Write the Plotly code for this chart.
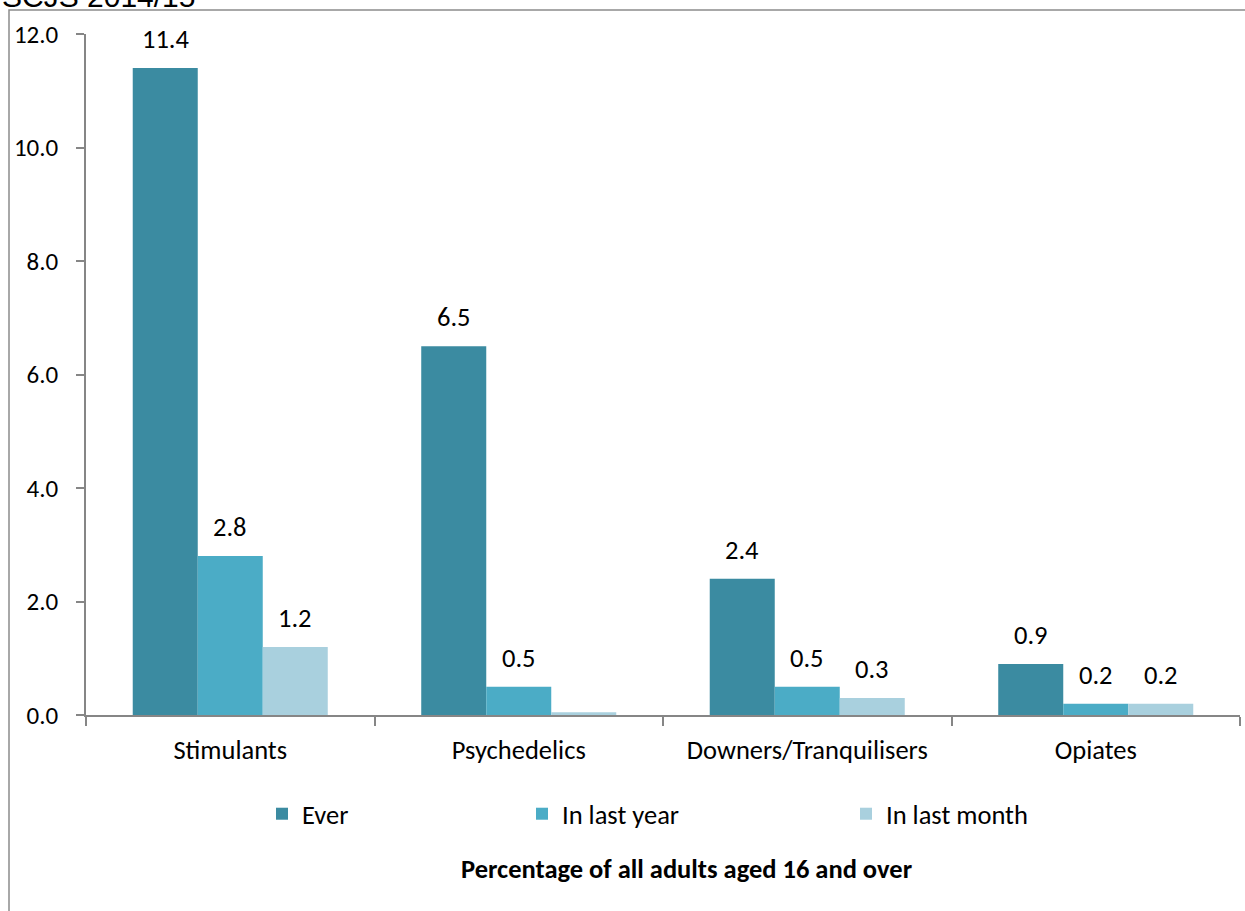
import plotly.graph_objects as go

categories = ["Stimulants", "Psychedelics", "Downers/Tranquilisers", "Opiates"]
series_names = ["Ever", "In last year", "In last month"]
ever = [11.4, 6.5, 2.4, 0.9]
last_year = [2.8, 0.5, 0.5, 0.2]
last_month = [1.2, 0.05, 0.3, 0.2]
label_ever = ["11.4", "6.5", "2.4", "0.9"]
label_year = ["2.8", "0.5", "0.5", "0.2"]
label_month = ["1.2", "", "0.3", "0.2"]
y_ticks = [0, 2, 4, 6, 8, 10, 12]

colors = ["#3B8BA1", "#4BACC6", "#A9D0DE"]
FONT = "Carlito, Lato, sans-serif"
FS = 26.5

W, H = 1245, 911
L, R, T, B = 86, 5, 34, 196
pw, ph = W - L - R, H - T - B

def px_x(p):
    return (p - L) / pw

def px_y(p):
    return (H - B - p) / ph

BARGAP = 0.324
fig = go.Figure()
all_vals = [ever, last_year, last_month]
all_labels = [label_ever, label_year, label_month]
legends = ["legend", "legend2", "legend3"]
for i, (name, vals) in enumerate(zip(series_names, all_vals)):
    fig.add_trace(go.Bar(
        x=categories, y=vals, name=name,
        marker=dict(color=colors[i], line=dict(width=0)),
        legend=legends[i], hoverinfo="skip",
    ))

annotations = []
bw = (1 - BARGAP) / 3
for i, (vals, labs) in enumerate(zip(all_vals, all_labels)):
    for j, (v, lab) in enumerate(zip(vals, labs)):
        if not lab:
            continue
        annotations.append(dict(
            x=j + (i - 1) * bw, y=v, xref="x", yref="y", text=lab,
            showarrow=False, yanchor="bottom", yshift=11,
            font=dict(family=FONT, size=FS, color="#000000"),
        ))

annotations.append(dict(
    x=px_x(687), y=px_y(869), xref="paper", yref="paper",
    text="<b>Percentage of all adults aged 16 and over</b>",
    showarrow=False, xanchor="center", yanchor="middle",
    font=dict(family=FONT, size=FS, color="#000000"),
))
annotations.append(dict(
    x=px_x(0), y=px_y(15), xref="paper", yref="paper",
    text="SCJS 2014/15", showarrow=False, xanchor="left", yanchor="bottom",
    font=dict(family="Liberation Sans, Arial", size=30, color="#000000"),
))

leg_common = dict(orientation="h", yanchor="middle", xanchor="left",
                  font=dict(family=FONT, size=FS, color="#000000"),
                  bgcolor="rgba(0,0,0,0)", itemwidth=30)

fig.update_layout(
    width=W, height=H,
    margin=dict(l=L, r=R, t=T, b=B),
    paper_bgcolor="white", plot_bgcolor="white",
    barmode="group", bargap=BARGAP, bargroupgap=0,
    font=dict(family=FONT, size=FS, color="#000000"),
    showlegend=True,
    legend=dict(x=px_x(262), y=px_y(814), **leg_common),
    legend2=dict(x=px_x(522), y=px_y(814), **leg_common),
    legend3=dict(x=px_x(846), y=px_y(814), **leg_common),
    annotations=annotations,
    shapes=[dict(type="rect", xref="paper", yref="paper",
                 x0=px_x(9), x1=1.2, y0=-0.6, y1=px_y(10),
                 line=dict(color="#8C8C8C", width=1.5), fillcolor="rgba(0,0,0,0)",
                 layer="below")],
    xaxis=dict(
        showline=True, linecolor="#868686", linewidth=1.5,
        ticks="outside", tickson="boundaries", ticklen=9, tickcolor="#868686", tickwidth=1.5,
        tickfont=dict(family=FONT, size=FS, color="#000000"),
        ticklabelstandoff=10, showgrid=False, zeroline=False,
    ),
    yaxis=dict(
        range=[0, 12], tickvals=y_ticks, tickformat=".1f",
        showline=True, linecolor="#868686", linewidth=1.5,
        ticks="outside", ticklen=8, tickcolor="#868686", tickwidth=1.5,
        tickfont=dict(family=FONT, size=25, color="#000000"),
        ticklabelstandoff=13, showgrid=False, zeroline=False,
    ),
)

fig.write_html("out.html")
